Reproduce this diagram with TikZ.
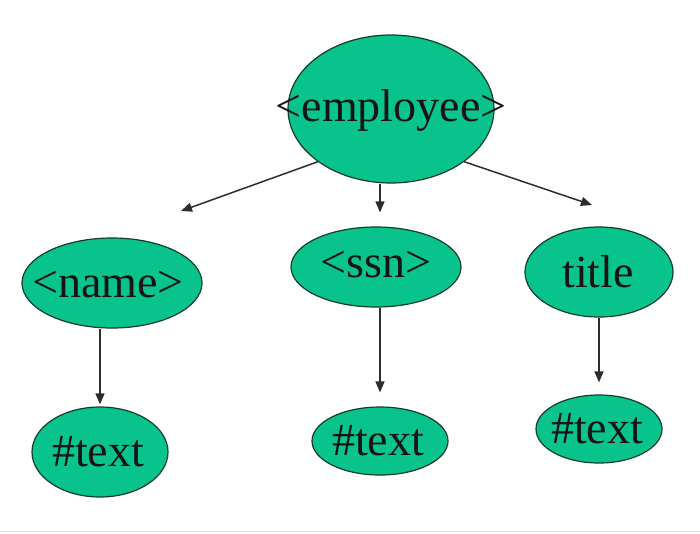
\documentclass[tikz,border=0pt]{standalone}
\usepackage{fontspec}
\setmainfont{Liberation Serif}
\usetikzlibrary{arrows.meta,calc,shapes.geometric}
\definecolor{fillgreen}{RGB}{8,196,140}
\definecolor{edgegreen}{RGB}{20,60,45}
\definecolor{arrgray}{RGB}{45,45,45}
\tikzset{
  elnode/.style={ellipse, draw=edgegreen, line width=1.2pt, fill=fillgreen,
    inner sep=0pt},
  eltext/.style={font=\fontsize{46}{52}\selectfont, text=black!92, inner sep=0pt},
  arr/.style={draw=arrgray, line width=1.5pt, -{Triangle[length=11pt,width=9pt]}}
}
\begin{document}
\begin{tikzpicture}[x=1pt,y=-1pt]
\useasboundingbox[fill=white] (0,0) rectangle (700,533);
\draw[black!12, line width=1pt] (0,531) -- (700,531);
\node[elnode, minimum width=206pt, minimum height=148pt] (emp) at (391,109) {};
\node[eltext] (empl) at (391,111) {<employee>};
\node[elnode, minimum width=180pt, minimum height=90pt] (name) at (112,283) {};
\node[eltext] (namel) at (108,285) {<name>};
\node[elnode, minimum width=170pt, minimum height=80pt] (ssn) at (376,267) {};
\node[eltext] (ssnl) at (376,265) {<ssn>};
\node[elnode, minimum width=148pt, minimum height=90pt] (title) at (599,272) {};
\node[eltext] (titlel) at (598,272) {title};
\node[elnode, minimum width=136pt, minimum height=90pt] (t1) at (100,452) {};
\node[eltext] (t1l) at (98,452) {\#text};
\node[elnode, minimum width=136pt, minimum height=68pt] (t2) at (380,441) {};
\node[eltext] (t2l) at (378,441) {\#text};
\node[elnode, minimum width=126pt, minimum height=68pt] (t3) at (599,429) {};
\node[eltext] (t3l) at (597,429) {\#text};
\coordinate (tipN) at (181,211);
\coordinate (tipT) at (592,205);
\draw[arr] (emp.south west) -- (tipN);
\draw[arr] (emp.south east) -- (tipT);
\draw[arr, shorten >=14pt] (emp.south -| t2.north) -- (ssn.north -| t2.north);
\draw[arr, shorten >=2pt] (name.south -| t1.north) -- (t1.north);
\draw[arr, shorten >=14pt] (ssn.south -| t2.north) -- (t2.north);
\draw[arr, shorten >=12pt] (title.south -| t3.north) -- (t3.north);
\end{tikzpicture}
\end{document}
